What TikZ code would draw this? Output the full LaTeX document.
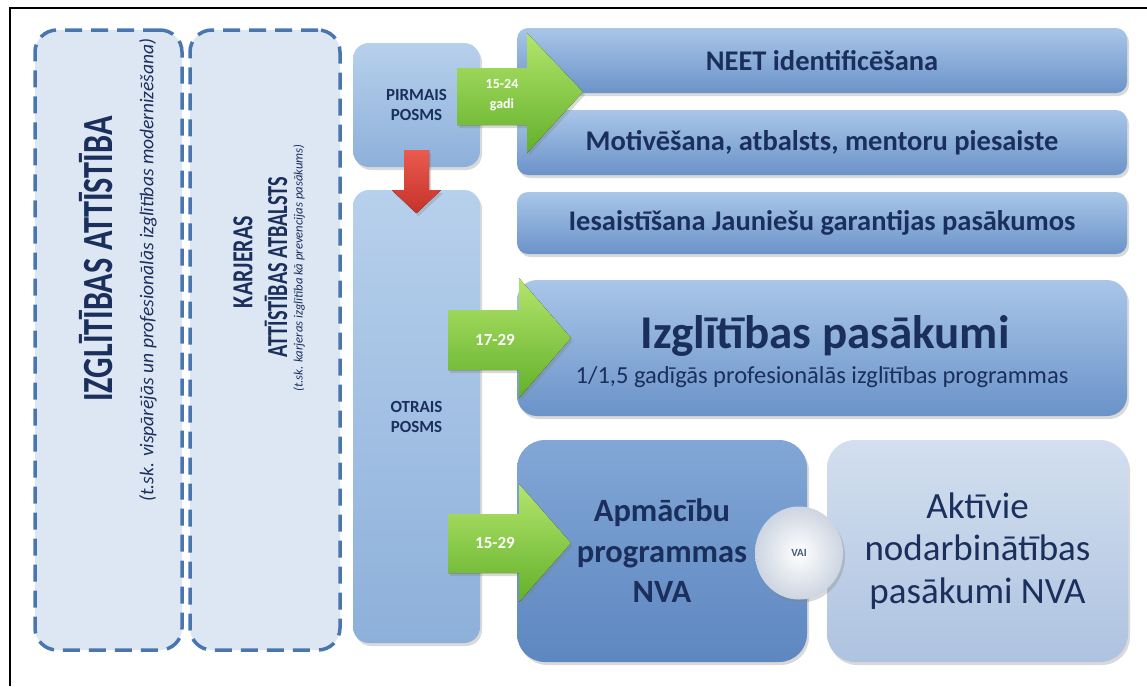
\documentclass[tikz,border=0pt]{standalone}
\usepackage{fontspec}
\usepackage{graphicx}
\setmainfont{Carlito}
\usetikzlibrary{shadows,shapes.geometric}

\definecolor{textnavy}{HTML}{1A2F5C}
\definecolor{dashline}{HTML}{4A76B0}
\definecolor{dashfill}{HTML}{DDE7F3}
\definecolor{posmstop}{HTML}{B7D0EC}
\definecolor{posmsbot}{HTML}{8DB0DA}
\definecolor{bartop}{HTML}{A9C6E8}
\definecolor{barbot}{HTML}{6B93C9}
\definecolor{apmtop}{HTML}{82A7D6}
\definecolor{apmbot}{HTML}{5E87C1}
\definecolor{akttop}{HTML}{D3DFEF}
\definecolor{aktbot}{HTML}{AEC3E0}
\definecolor{greentop}{HTML}{B4E56C}
\definecolor{greenbot}{HTML}{62B02A}
\definecolor{redtop}{HTML}{EA5A4E}
\definecolor{redbot}{HTML}{C5322A}
\definecolor{vaiouter}{HTML}{CDD5E1}

\tikzset{
  dashbox/.style={draw=dashline, line width=3.5pt, dash pattern=on 17pt off 9pt, fill=dashfill, rounded corners=22pt, inner sep=0pt},
  softshadow/.style={drop shadow={shadow xshift=2pt, shadow yshift=-3pt, opacity=0.3}},
  sidetext/.style={rotate=90, text=textnavy, inner sep=0pt},
  posmsbox/.style={rounded corners=16pt, top color=posmstop, bottom color=posmsbot, softshadow, minimum width=127pt, inner sep=0pt, align=center, font=\bfseries\fontsize{17}{20}\selectfont, text=textnavy},
  barbox/.style={rounded corners=11pt, top color=bartop, bottom color=barbot, softshadow, minimum width=610pt, inner sep=0pt, font=\bfseries\fontsize{28.5}{30}\selectfont, text=textnavy},
  bigbox/.style={rounded corners=28pt, softshadow, minimum height=222pt, inner sep=0pt, align=center, text=textnavy},
  greenarrow/.style={top color=greentop, bottom color=greenbot, softshadow},
  agelabel/.style={font=\bfseries\fontsize{17}{20}\selectfont, text=white, align=center, inner sep=0pt},
}

\begin{document}
\begin{tikzpicture}[x=1pt, y=-1pt]
  \useasboundingbox (0,0) rectangle (1147,686);
  % Frame
  \draw[line width=1.2pt] (10,686) -- (10,8) -- (1147,8);

  % Left columns
  \node[dashbox, minimum width=147pt, minimum height=620pt] (izglcol) at (108.5,340) {};
  \node[dashbox, minimum width=150pt, minimum height=620pt] (karjcol) at (265,340) {};
  \node[sidetext, font=\bfseries\fontsize{43}{43}\selectfont] (izgltitle) at (96,259) {\scalebox{0.75}[1]{IZGLĪTĪBAS ATTĪSTĪBA}};
  \node[sidetext, font=\itshape\fontsize{19.5}{19.5}\selectfont] (izglnote) at (148,270) {(t.sk. vispārējās un profesionālās izglītības modernizēšana)};
  \node[sidetext, font=\bfseries\fontsize{29}{29}\selectfont] (karjtitle) at (243,262) {\scalebox{0.76}[1]{KARJERAS}};
  \node[sidetext, font=\bfseries\fontsize{29}{29}\selectfont] (karjsub) at (276,267) {\scalebox{0.70}[1]{ATTĪSTĪBAS ATBALSTS}};
  \node[sidetext, font=\itshape\fontsize{12.7}{12.7}\selectfont] (karjnote) at (299,268) {(t.sk. karjeras izglītība kā prevencijas pasākums)};

  % Stages
  \node[posmsbox, minimum height=124pt] (pirmais) at (416.5,105) {PIRMAIS\\POSMS};
  \node[posmsbox, minimum height=453pt] (otrais) at (416.5,416.5) {OTRAIS\\POSMS};

  % Measures
  \node[barbox, minimum height=65pt] (neet) at (822,60.5) {NEET identificēšana};
  \node[barbox, minimum height=65pt] (motiv) at (822,142.5) {Motivēšana, atbalsts, mentoru piesaiste};
  \node[barbox, minimum height=62pt] (iesaist) at (822,223) {Iesaistīšana Jauniešu garantijas pasākumos};
  \node[barbox, rounded corners=20pt, minimum height=136pt] (izgl) at (822,348) {};
  \node[text=textnavy, font=\bfseries\fontsize{47}{47}\selectfont] (izglhead) at (825,336) {Izglītības pasākumi};
  \node[text=textnavy, font=\fontsize{24.5}{25}\selectfont] (izglprog) at (822,377) {1/1,5 gadīgās profesionālās izglītības programmas};
  \node[bigbox, top color=apmtop, bottom color=apmbot, minimum width=290pt, font=\bfseries\fontsize{32.5}{40.5}\selectfont] (apm) at (662,551) {Apmācību\\programmas\\NVA};
  \node[bigbox, top color=akttop, bottom color=aktbot, minimum width=301pt, font=\fontsize{37}{42.5}\selectfont] (akt) at (977.5,551) {Aktīvie\\nodarbinātības\\pasākumi NVA};
  \node[ellipse, inner color=white, outer color=vaiouter, softshadow, minimum width=88pt, minimum height=93pt, font=\bfseries\fontsize{11}{11}\selectfont, text=textnavy!80] (vai) at (799,553) {VAI};

  % Links
  \fill[top color=redtop, bottom color=redbot, softshadow] ([yshift=17pt]pirmais.south) ++(-12.5,0) -- ++(25,0) -- ++(0,40) -- ++(12,0) -- ++(-24.5,23) -- ++(-24.5,-23) -- ++(12,0) -- cycle;
  \fill[greenarrow] (457,68) -- ++(70,0) -- ++(0,-35) -- ++(56,59) -- ++(-56,61) -- ++(0,-28) -- ++(-70,0) -- cycle;
  \fill[greenarrow] (448,310) -- ++(71,0) -- ++(0,-32) -- ++(52,60) -- ++(-52,60) -- ++(0,-28) -- ++(-71,0) -- cycle;
  \fill[greenarrow] (448,514) -- ++(71,0) -- ++(0,-30) -- ++(52,59) -- ++(-52,59) -- ++(0,-29) -- ++(-71,0) -- cycle;
  \node[agelabel, font=\bfseries\fontsize{14}{20}\selectfont] (age1) at (502,95) {15-24\\gadi};
  \node[agelabel] (age2) at (495,340) {17-29};
  \node[agelabel] (age3) at (495,543) {15-29};
\end{tikzpicture}
\end{document}
